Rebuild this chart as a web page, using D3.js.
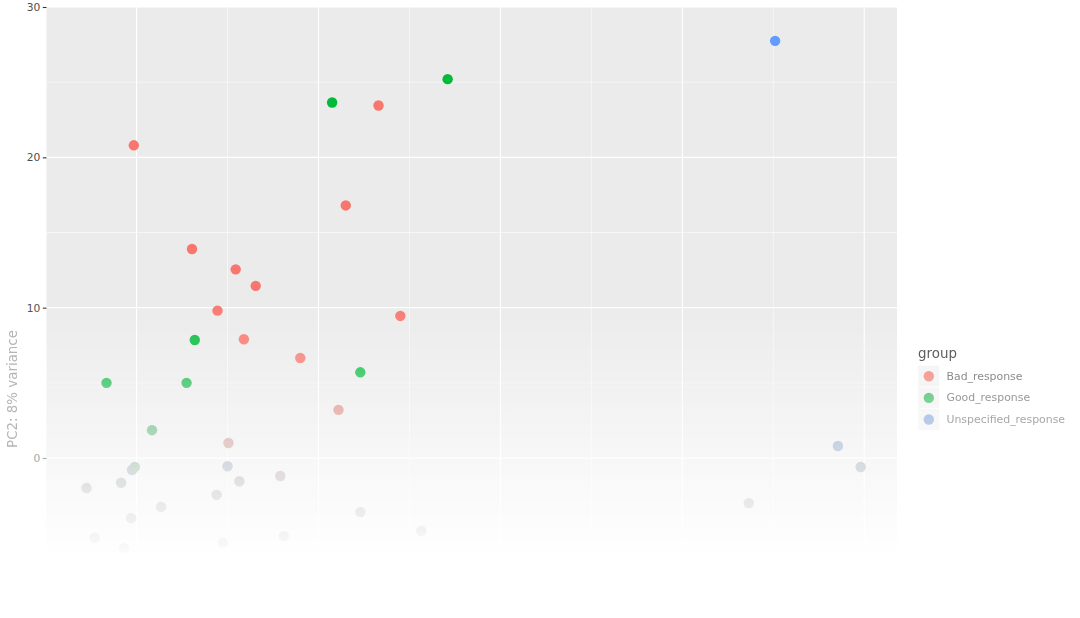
<!DOCTYPE html>
<html>
<head>
<meta charset="utf-8">
<script src="https://cdn.jsdelivr.net/npm/d3@7"></script>
<style>
html,body{margin:0;padding:0;background:#fff;}
svg{display:block;font-family:"DejaVu Sans",sans-serif;}
</style>
</head>
<body>
<svg id="chart" width="1080" height="618"></svg>
<script>
// ---- data ----
const groups = ["Bad_response", "Good_response", "Unspecified_response"];
const groupColors = ["#F8766D", "#00BA38", "#619CFF"];
const pc1 = [50.2, 14.2, 1.5, 6.6, -20.3, 3.0, -13.9, -9.1, -6.9, -11.1, 9.0, -13.6, -8.2, -2.0, -23.3, -14.5, 4.6, 2.2, -18.3, -9.9,
             57.1, 59.6, -20.5, -20.2, -10.0, -4.2, -8.7, -25.5, -21.7, -11.2, -17.3, -20.6, 47.3, 4.6, 11.3, -3.8, -24.6, -10.5, -21.4];
const pc2 = [27.75, 25.2, 23.65, 23.45, 20.8, 16.8, 13.9, 12.55, 11.45, 9.8, 9.45, 7.85, 7.9, 6.65, 5.0, 5.0, 5.7, 3.2, 1.85, 1.0,
             0.8, -0.6, -0.8, -0.6, -0.55, -1.2, -1.55, -2.0, -1.65, -2.45, -3.25, -4.0, -3.0, -3.6, -4.85, -5.2, -5.3, -5.65, -6.0];
const group = ["Unspecified_response", "Good_response", "Good_response", "Bad_response", "Bad_response", "Bad_response", "Bad_response",
               "Bad_response", "Bad_response", "Bad_response", "Bad_response", "Good_response", "Bad_response", "Bad_response",
               "Good_response", "Good_response", "Good_response", "Bad_response", "Good_response", "Bad_response",
               "Unspecified_response", "Unspecified_response", "Unspecified_response", "Good_response", "Unspecified_response",
               "Bad_response", "Bad_response", "Good_response", "Good_response", "Bad_response", "Good_response", "Good_response",
               "Unspecified_response", "Bad_response", "Bad_response", "Bad_response", "Good_response", "Bad_response", "Good_response"];
const yMajorTicks = [-10, 0, 10, 20, 30];
const yMinorTicks = [-5, 5, 15, 25];
const yTickLabels = ["-10", "0", "10", "20", "30"];
const xMajorTicks = [-20, 0, 20, 40, 60];
const xMinorTicks = [-10, 10, 30, 50];
const yTitle = "PC2: 8% variance";
const legendTitle = "group";

// ---- layout ----
const W = 1080, H = 618;
const panel = {left: 46.5, right: 897, top: 7, bottom: 640};
const x = d3.scaleLinear().domain([-29.9, 63.6]).range([panel.left, panel.right]);
const y = d3.scaleLinear().domain([0, 30]).range([458, panel.top]);
const color = d3.scaleOrdinal().domain(groups).range(groupColors);
const pts = pc1.map((v, i) => ({x: v, y: pc2[i], g: group[i]}));

const svg = d3.select("#chart");
const defs = svg.append("defs");

// white fade gradient
const fade = defs.append("linearGradient").attr("id", "fade")
  .attr("gradientUnits", "userSpaceOnUse").attr("x1", 0).attr("x2", 0).attr("y1", 295).attr("y2", 565);
fade.append("stop").attr("offset", 0).attr("stop-color", "#fff").attr("stop-opacity", 0);
fade.append("stop").attr("offset", 1).attr("stop-color", "#fff").attr("stop-opacity", 1);

// grayscale mask gradient
const gm = defs.append("linearGradient").attr("id", "grayGrad")
  .attr("gradientUnits", "userSpaceOnUse").attr("x1", 0).attr("x2", 0).attr("y1", 368).attr("y2", 490);
gm.append("stop").attr("offset", 0).attr("stop-color", "#fff").attr("stop-opacity", 0);
gm.append("stop").attr("offset", 1).attr("stop-color", "#fff").attr("stop-opacity", 1);
defs.append("mask").attr("id", "grayMask").attr("maskUnits", "userSpaceOnUse")
  .attr("x", 0).attr("y", 0).attr("width", W).attr("height", H)
  .append("rect").attr("x", 0).attr("y", 0).attr("width", W).attr("height", H).attr("fill", "url(#grayGrad)");
defs.append("filter").attr("id", "gray").attr("filterUnits", "userSpaceOnUse")
  .attr("x", 0).attr("y", 0).attr("width", W).attr("height", H)
  .append("feColorMatrix").attr("type", "saturate").attr("values", 0);

function drawChart(g) {
  g.append("rect").attr("x", panel.left).attr("y", panel.top)
    .attr("width", panel.right - panel.left).attr("height", panel.bottom - panel.top).attr("fill", "#EBEBEB");
  // minor grid
  g.selectAll(".ymin").data(yMinorTicks).enter().append("line")
    .attr("x1", panel.left).attr("x2", panel.right).attr("y1", d => y(d)).attr("y2", d => y(d))
    .attr("stroke", "#fff").attr("stroke-width", 0.55);
  g.selectAll(".xmin").data(xMinorTicks).enter().append("line")
    .attr("y1", panel.top).attr("y2", panel.bottom).attr("x1", d => x(d)).attr("x2", d => x(d))
    .attr("stroke", "#fff").attr("stroke-width", 0.55);
  // major grid
  g.selectAll(".ymaj").data(yMajorTicks).enter().append("line")
    .attr("x1", panel.left).attr("x2", panel.right).attr("y1", d => y(d)).attr("y2", d => y(d))
    .attr("stroke", "#fff").attr("stroke-width", 1.1);
  g.selectAll(".xmaj").data(xMajorTicks).enter().append("line")
    .attr("y1", panel.top).attr("y2", panel.bottom).attr("x1", d => x(d)).attr("x2", d => x(d))
    .attr("stroke", "#fff").attr("stroke-width", 1.1);
  // y axis ticks
  const yAxis = d3.axisLeft(y).tickValues(yMajorTicks.filter(v => v >= 0))
    .tickFormat((d) => yTickLabels[yMajorTicks.indexOf(d)]).tickSize(3.7).tickPadding(2.5);
  const ya = g.append("g").attr("transform", `translate(${panel.left},0)`).call(yAxis);
  ya.select(".domain").remove();
  ya.selectAll(".tick line").attr("stroke", "#333").attr("stroke-width", 1.1);
  ya.selectAll(".tick text").attr("fill", "#4D4D4D").attr("font-size", 10.7).attr("font-family", "DejaVu Sans");
  // points
  g.selectAll(".pt").data(pts).enter().append("circle")
    .attr("cx", d => x(d.x)).attr("cy", d => y(d.y)).attr("r", 5.2).attr("fill", d => color(d.g));
  // legend keys
  const lg = g.append("g").attr("transform", "translate(918,365.5)");
  groups.forEach((gr, i) => {
    lg.append("rect").attr("x", 0).attr("y", i * 21.6).attr("width", 21.6).attr("height", 21.6)
      .attr("fill", "#F2F2F2").attr("stroke", "#fff").attr("stroke-width", 0.5);
    lg.append("circle").attr("cx", 10.8).attr("cy", i * 21.6 + 10.8).attr("r", 5.2).attr("fill", color(gr));
  });
}

drawChart(svg.append("g"));
drawChart(svg.append("g").attr("filter", "url(#gray)").attr("mask", "url(#grayMask)"));

svg.append("rect").attr("x", 0).attr("y", 0).attr("width", W).attr("height", H).attr("fill", "url(#fade)");

// texts on top
svg.append("text").attr("transform", "translate(12.5,389) rotate(-90)")
  .attr("text-anchor", "middle").attr("dominant-baseline", "central")
  .attr("font-size", 13.4).attr("fill", "#B5B5B5").text(yTitle);
svg.append("text").attr("x", 918).attr("y", 358).attr("font-size", 13.4).attr("fill", "#5E5E5E").text(legendTitle);
const labelColors = ["#8C8C8C", "#999999", "#A8A8A8"];
groups.forEach((gr, i) => {
  svg.append("text").attr("x", 946.5).attr("y", 365.5 + i * 21.6 + 10.8)
    .attr("dominant-baseline", "central").attr("font-size", 10.9).attr("fill", labelColors[i]).text(gr);
});
</script>
</body>
</html>
